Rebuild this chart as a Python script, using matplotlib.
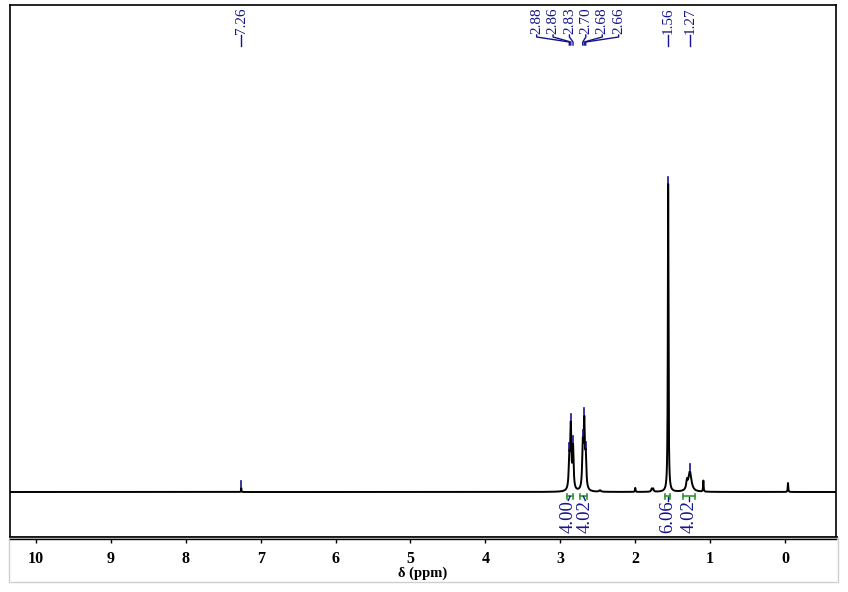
import numpy as np
import matplotlib
matplotlib.use("Agg")
import matplotlib.pyplot as plt
from matplotlib.patches import Rectangle
from matplotlib.lines import Line2D
import matplotlib.transforms as mtransforms

# ---------------- data ----------------
# spectrum peaks: chemical shift (ppm), height (arbitrary units), half width (ppm)
peak_ppm    = [7.26, 2.88, 2.86, 2.83, 2.70, 2.68, 2.66, 2.47, 2.00, 1.78, 1.76, 1.56, 1.31, 1.27, 1.09, -0.04]
peak_height = [4.0, 30.0, 62.0, 42.0, 42.0, 64.0, 30.0, 1.5, 4.0, 3.0, 3.0, 308.0, 8.0, 20.0, 11.0, 9.0]
peak_hwhm   = [0.003, 0.009, 0.009, 0.009, 0.009, 0.009, 0.009, 0.012, 0.004, 0.008, 0.008, 0.005, 0.010, 0.025, 0.004, 0.004]

# picked peak labels
label_ppm  = [7.26, 2.88, 2.86, 2.83, 2.70, 2.68, 2.66, 1.56, 1.27]
label_text = ["7.26", "2.88", "2.86", "2.83", "2.70", "2.68", "2.66", "1.56", "1.27"]
label_group = [0, 1, 1, 1, 1, 1, 1, 2, 3]

# integrals: region start, end (ppm) and value
integ_start = [2.91, 2.74, 1.60, 1.36]
integ_end   = [2.83, 2.64, 1.535, 1.20]
integ_text  = ["4.00", "4.02", "6.06", "4.02"]

xticks = [10, 9, 8, 7, 6, 5, 4, 3, 2, 1, 0]
x_label = "δ (ppm)"

# ---------------- style ----------------
navy = "#14148c"
green = "#2e9a2e"
serif = ["Liberation Serif", "DejaVu Serif"]

W, H = 848, 592
fig = plt.figure(figsize=(W / 100, H / 100), dpi=100)
fig.patch.set_facecolor("white")

# axes box in pixels: x 10..836, y 5..537
x0p, x1p, y0p, y1p = 10, 836, 5, 537
ax = fig.add_axes([x0p / W, (H - y1p) / H, (x1p - x0p) / W, (y1p - y0p) / H])

ppm = np.linspace(10.35, -0.69, 40000)
spec = np.zeros_like(ppm)
for p, h, w in zip(peak_ppm, peak_height, peak_hwhm):
    spec += h / (1.0 + ((ppm - p) / w) ** 2)

ax.plot(ppm, spec, color="black", lw=1.4, zorder=3)
ax.set_xlim(10.347, -0.681)
ax.set_ylim(-45, 487)

def spec_at(p):
    return float(np.interp(-p, -ppm, spec))

# peak markers
for p in label_ppm:
    v = spec_at(p)
    ax.plot([p, p], [v + 1, v + 7], color=navy, lw=1.2, zorder=4)

# peak labels
blend = mtransforms.blended_transform_factory(ax.transData, ax.transAxes)
ppm_per_px = (10.347 + 0.681) / (x1p - x0p)
def fy(ypix):
    return (y1p - ypix) / (y1p - y0p)

groups = {}
for i, g in enumerate(label_group):
    groups.setdefault(g, []).append(i)
spacing = 16.4 * ppm_per_px
for g, idxs in groups.items():
    n = len(idxs)
    center = np.mean([label_ppm[i] for i in idxs])
    if n == 1:
        center = label_ppm[idxs[0]]
    for k, i in enumerate(idxs):
        tx = center + (((n - 1) / 2.0) - k) * spacing
        ax.text(tx, fy(34), label_text[i], rotation=90, ha="center", va="bottom",
                fontsize=11, color=navy, family=serif, transform=blend)
        p = label_ppm[i]
        if n == 1:
            ax.plot([p, p], [fy(35), fy(46)], color=navy, lw=1.0, transform=blend)
        else:
            ax.plot([tx, tx, p, p], [fy(35), fy(37), fy(42), fy(45)], color=navy, lw=1.0,
                    transform=blend)

# integrals
ycen = [(a + b) / 2 for a, b in zip(integ_start, integ_end)]
txs = list(ycen)
minsep = 17 * ppm_per_px
for i in range(1, len(txs)):
    if txs[i - 1] - txs[i] < minsep:
        mid = (txs[i - 1] + txs[i]) / 2
        txs[i - 1] = mid + minsep / 2
        txs[i] = mid - minsep / 2
for a, b, t, c, tx in zip(integ_start, integ_end, integ_text, ycen, txs):
    ax.plot([a, b], [-4, -4], color=green, lw=1.2, zorder=4)
    ax.plot([a, a], [-1.5, -6.5], color=green, lw=1.2, zorder=4)
    ax.plot([b, b], [-1.5, -6.5], color=green, lw=1.2, zorder=4)
    ax.plot([c, tx], [-4.5, -8.5], color=navy, lw=1.0, zorder=4)
    ax.text(tx, -8, t, rotation=90, ha="center", va="top", fontsize=13.5,
            color=navy, family=serif)

# spines and ticks
for s in ["left", "right", "top"]:
    ax.spines[s].set_linewidth(1.2)
ax.spines["bottom"].set_linewidth(2.0)
ax.set_yticks([])
ax.set_xticks(xticks)
ax.set_xticklabels([str(t) for t in xticks], family=serif, fontweight="bold", fontsize=11.5)
ax.tick_params(axis="x", direction="out", length=4.5, width=1.0, pad=5.5)
ax.set_xlabel(x_label, family=serif, fontweight="bold", fontsize=10.5, labelpad=0)

# second line under the axes and light grey frame
fig.add_artist(Line2D([x0p / W, x1p / W], [(H - 538.7) / H] * 2, color="black", lw=1.0))
fig.add_artist(Rectangle((9 / W, (H - 582) / H), 829 / W, 44 / H, fill=False,
                         edgecolor="#cfcfcf", lw=1.0))

fig.savefig("out.png", dpi=100)
